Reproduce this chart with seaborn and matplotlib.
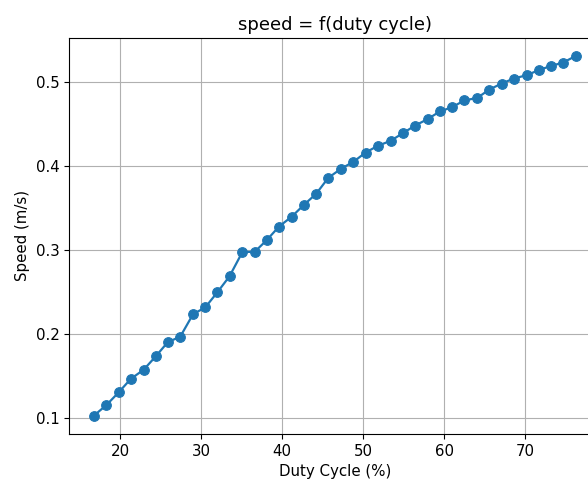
import matplotlib
matplotlib.use("Agg")
import matplotlib.pyplot as plt
import seaborn as sns
import pandas as pd

duty_cycle = [16.7, 18.3, 19.8, 21.3, 22.9, 24.4, 25.9, 27.4, 29.0, 30.5,
              32.0, 33.5, 35.1, 36.6, 38.1, 39.6, 41.2, 42.7, 44.2, 45.7,
              47.3, 48.8, 50.3, 51.8, 53.4, 54.9, 56.4, 58.0, 59.5, 61.0,
              62.5, 64.1, 65.6, 67.1, 68.6, 70.2, 71.7, 73.2, 74.7, 76.3]
speed = [0.103, 0.116, 0.131, 0.147, 0.158, 0.174, 0.191, 0.197, 0.224, 0.232,
         0.250, 0.269, 0.298, 0.298, 0.312, 0.328, 0.340, 0.354, 0.367, 0.386,
         0.397, 0.405, 0.416, 0.424, 0.430, 0.439, 0.448, 0.456, 0.465, 0.470,
         0.478, 0.481, 0.491, 0.498, 0.504, 0.508, 0.514, 0.519, 0.523, 0.531]

data = pd.DataFrame({'Duty Cycle (%)': duty_cycle, 'Speed (m/s)': speed})

plt.rcParams['font.size'] = 10.8

fig = plt.figure(figsize=(5.88, 4.79), dpi=100)
# the original figure is cropped on the right, so the axes run past the edge
ax = fig.add_axes([0.118, 0.094, 0.9026, 0.827])

sns.lineplot(data=data, x='Duty Cycle (%)', y='Speed (m/s)', ax=ax,
             marker='o', color='#1f77b4', markersize=7,
             markeredgecolor='#1f77b4', linewidth=1.6)

ax.set_title('speed = f(duty cycle)', fontsize=13)
ax.set_xlabel('Duty Cycle (%)')
ax.set_ylabel('Speed (m/s)')
ax.grid(True)

fig.savefig('out.png', dpi=100)
